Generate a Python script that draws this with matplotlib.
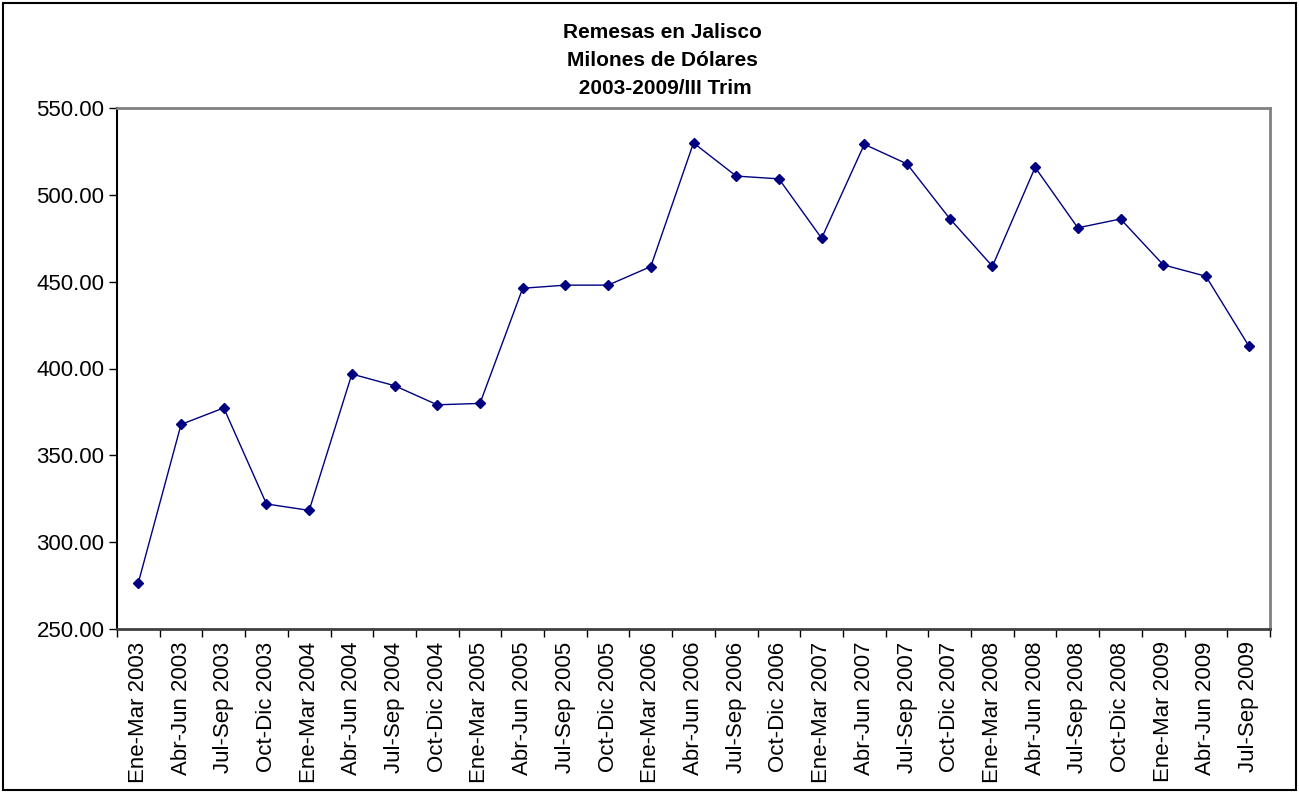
import matplotlib
matplotlib.use("Agg")
import matplotlib.pyplot as plt
from matplotlib.patches import Rectangle
import numpy as np

plt.rcParams['font.family'] = ['Liberation Sans', 'DejaVu Sans']

categories = [
    "Ene-Mar 2003", "Abr-Jun 2003", "Jul-Sep 2003", "Oct-Dic 2003",
    "Ene-Mar 2004", "Abr-Jun 2004", "Jul-Sep 2004", "Oct-Dic 2004",
    "Ene-Mar 2005", "Abr-Jun 2005", "Jul-Sep 2005", "Oct-Dic 2005",
    "Ene-Mar 2006", "Abr-Jun 2006", "Jul-Sep 2006", "Oct-Dic 2006",
    "Ene-Mar 2007", "Abr-Jun 2007", "Jul-Sep 2007", "Oct-Dic 2007",
    "Ene-Mar 2008", "Abr-Jun 2008", "Jul-Sep 2008", "Oct-Dic 2008",
    "Ene-Mar 2009", "Abr-Jun 2009", "Jul-Sep 2009",
]
remesas = [
    276.7, 367.8, 377.3, 322.0,
    318.3, 396.8, 390.1, 379.1,
    379.9, 446.2, 448.0, 448.0,
    458.7, 529.9, 510.8, 509.2,
    475.0, 529.1, 517.8, 486.3,
    458.9, 515.8, 481.0, 486.1,
    459.7, 453.1, 413.1,
]
y_ticks = [250, 300, 350, 400, 450, 500, 550]
title_lines = ["Remesas en Jalisco", "Milones de Dólares", " 2003-2009/III Trim"]

W, H = 1299, 793
fig = plt.figure(figsize=(W / 100, H / 100), dpi=100)
fig.patch.set_facecolor("white")

# outer chart border
fig.patches.append(Rectangle((3 / W, 3 / H), (W - 6) / W, (H - 6) / H,
                             transform=fig.transFigure, fill=False,
                             edgecolor="black", linewidth=1.5))

ax = fig.add_axes([117 / W, 1 - 629 / H, (1270 - 117) / W, (629 - 108) / H])
x = np.arange(len(categories))
ax.plot(x, remesas, color="#000080", linewidth=1.0, marker="D",
        markersize=5.5, markerfacecolor="#000080", markeredgecolor="#000080")

ax.set_xlim(-0.5, len(categories) - 0.5)
ax.set_ylim(250, 550)
ax.set_yticks(y_ticks)
ax.set_yticklabels([f"{v:.2f}" for v in y_ticks], fontsize=16)
ax.set_xticks(x)
ax.set_xticklabels(categories, rotation=90, fontsize=16, va="top", ha="center")
ax.set_xticks(np.arange(len(categories) + 1) - 0.5, minor=True)
ax.tick_params(axis="x", which="major", length=0, pad=9)
ax.tick_params(axis="x", which="minor", length=6, width=1.0, direction="out", color="black")
ax.tick_params(axis="y", length=6, width=1.0, direction="out", pad=3, color="black")

for side in ["top", "right"]:
    ax.spines[side].set_color("#808080")
    ax.spines[side].set_linewidth(2.0)
ax.spines["left"].set_color("black")
ax.spines["left"].set_linewidth(1.5)
ax.spines["bottom"].set_color("#404040")
ax.spines["bottom"].set_linewidth(2.0)

for i, line in enumerate(title_lines):
    fig.text(662 / W, 1 - (33 + 28 * i) / H, line, ha="center", va="center",
             fontsize=15, fontweight="bold")

fig.savefig("out.png", dpi=100, facecolor="white")
